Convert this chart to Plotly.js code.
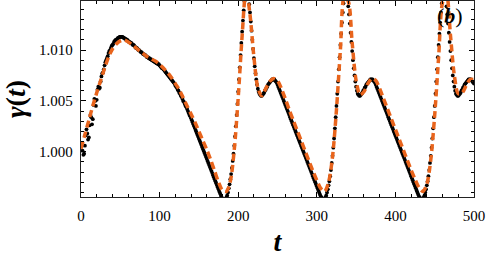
<!DOCTYPE html>
<html>
<head>
<meta charset="utf-8">
<script src="https://cdn.plot.ly/plotly-3.0.1.min.js"></script>
<style>html,body{margin:0;padding:0;background:#fff;}#chart{width:488px;height:262px;}</style>
</head>
<body>
<div id="chart"></div>
<script>
// black series: sampled every 1 time unit starting at t = 0
const blackStart = 0;
const blackStep = 1;
const blackGamma = [
1.0008,1.0006,1.0001,0.9997,0.9998,1.0006,1.0016,1.0022,1.0018,1.0012,
1.0014,1.0026,1.0036,1.0034,1.0027,1.0032,1.0046,1.0052,1.0050,1.0045,
1.0051,1.0061,1.0064,1.0062,1.0063,1.0069,1.0074,1.0077,1.0078,1.0081,
1.0085,1.0088,1.0090,1.0092,1.0094,1.0097,1.0099,1.0100,1.0102,1.0104,
1.0105,1.0106,1.0108,1.0109,1.0110,1.0110,1.0111,1.0112,1.0112,1.0113,
1.0113,1.0113,1.0113,1.0113,1.0112,1.0112,1.0111,1.0111,1.0110,1.0110,
1.0109,1.0108,1.0108,1.0107,1.0107,1.0106,1.0105,1.0105,1.0104,1.0103,
1.0102,1.0102,1.0101,1.0100,1.0100,1.0099,1.0098,1.0098,1.0097,1.0096,
1.0096,1.0095,1.0095,1.0094,1.0093,1.0093,1.0092,1.0092,1.0091,1.0091,
1.0090,1.0090,1.0089,1.0089,1.0088,1.0088,1.0087,1.0087,1.0086,1.0086,
1.0085,1.0084,1.0083,1.0082,1.0082,1.0081,1.0080,1.0079,1.0078,1.0077,
1.0076,1.0075,1.0074,1.0073,1.0072,1.0071,1.0070,1.0069,1.0068,1.0067,
1.0065,1.0064,1.0063,1.0061,1.0060,1.0058,1.0057,1.0055,1.0054,1.0052,
1.0050,1.0049,1.0047,1.0045,1.0044,1.0042,1.0040,1.0038,1.0036,1.0035,
1.0033,1.0031,1.0029,1.0027,1.0025,1.0023,1.0021,1.0019,1.0017,1.0015,
1.0013,1.0011,1.0009,1.0007,1.0005,1.0003,1.0001,0.9999,0.9997,0.9995,
0.9993,0.9991,0.9989,0.9987,0.9985,0.9983,0.9981,0.9979,0.9977,0.9975,
0.9973,0.9971,0.9969,0.9967,0.9965,0.9963,0.9961,0.9959,0.9957,0.9955,
0.9954,0.9953,0.9952,0.9952,0.9953,0.9955,0.9957,0.9960,0.9964,0.9968,
0.9973,0.9978,0.9984,0.9991,0.9998,1.0006,1.0015,1.0025,1.0036,1.0047,
1.0059,1.0071,1.0083,1.0095,1.0107,1.0118,1.0129,1.0139,1.0148,1.0155,
1.0159,1.0160,1.0157,1.0152,1.0145,1.0137,1.0128,1.0119,1.0110,1.0101,
1.0092,1.0084,1.0077,1.0071,1.0066,1.0062,1.0059,1.0057,1.0056,1.0055,
1.0055,1.0056,1.0057,1.0058,1.0060,1.0061,1.0063,1.0064,1.0066,1.0067,
1.0068,1.0069,1.0070,1.0071,1.0071,1.0071,1.0071,1.0070,1.0069,1.0068,
1.0066,1.0064,1.0062,1.0060,1.0058,1.0056,1.0054,1.0052,1.0050,1.0048,
1.0046,1.0044,1.0042,1.0040,1.0038,1.0036,1.0034,1.0032,1.0030,1.0028,
1.0026,1.0024,1.0022,1.0020,1.0018,1.0016,1.0014,1.0012,1.0010,1.0008,
1.0006,1.0004,1.0002,1.0000,0.9998,0.9996,0.9994,0.9992,0.9990,0.9988,
0.9986,0.9984,0.9982,0.9980,0.9978,0.9976,0.9974,0.9972,0.9970,0.9968,
0.9966,0.9964,0.9962,0.9960,0.9958,0.9956,0.9955,0.9954,0.9953,0.9953,
0.9954,0.9955,0.9957,0.9960,0.9963,0.9967,0.9971,0.9976,0.9982,0.9989,
0.9996,1.0004,1.0013,1.0023,1.0034,1.0045,1.0057,1.0069,1.0081,1.0093,
1.0105,1.0116,1.0127,1.0137,1.0146,1.0153,1.0157,1.0158,1.0155,1.0150,
1.0143,1.0135,1.0126,1.0117,1.0108,1.0099,1.0090,1.0082,1.0075,1.0069,
1.0064,1.0060,1.0057,1.0056,1.0055,1.0055,1.0056,1.0057,1.0058,1.0060,
1.0061,1.0063,1.0064,1.0066,1.0067,1.0068,1.0069,1.0070,1.0071,1.0071,
1.0071,1.0071,1.0070,1.0069,1.0068,1.0066,1.0064,1.0062,1.0060,1.0058,
1.0056,1.0054,1.0052,1.0050,1.0048,1.0046,1.0044,1.0042,1.0040,1.0038,
1.0036,1.0034,1.0032,1.0030,1.0028,1.0026,1.0024,1.0022,1.0020,1.0018,
1.0016,1.0014,1.0012,1.0010,1.0008,1.0006,1.0004,1.0002,1.0000,0.9998,
0.9996,0.9994,0.9992,0.9990,0.9988,0.9986,0.9984,0.9982,0.9980,0.9978,
0.9976,0.9974,0.9972,0.9970,0.9968,0.9966,0.9964,0.9962,0.9960,0.9958,
0.9956,0.9955,0.9954,0.9953,0.9953,0.9954,0.9955,0.9957,0.9960,0.9963,
0.9967,0.9971,0.9976,0.9982,0.9989,0.9996,1.0004,1.0013,1.0023,1.0034,
1.0045,1.0057,1.0069,1.0081,1.0093,1.0105,1.0116,1.0127,1.0137,1.0146,
1.0153,1.0157,1.0158,1.0155,1.0150,1.0143,1.0135,1.0126,1.0117,1.0108,
1.0099,1.0090,1.0082,1.0075,1.0069,1.0064,1.0060,1.0057,1.0056,1.0055,
1.0055,1.0056,1.0057,1.0058,1.0060,1.0061,1.0063,1.0064,1.0066,1.0067,
1.0068,1.0069,1.0070,1.0071,1.0071,1.0071,1.0071,1.0070,1.0069,1.0068,
1.0067
];
const blackT = blackGamma.map((_, i) => blackStart + i * blackStep);

// orange dashed series
const orangeT = [0,5,10,15,20,25,30,35,40,45,50,55,60,65,70,75,80,85,90,95,
100,105,110,115,120,125,130,135,140,145,150,155,160,165,170,175,180,185,190,195,
200,205,210,215,220,225,230,235,240,245,250,255,260,265,270,275,280,285,290,295,
300,305,310,315,320,325,330,335,340,345,350,355,360,365,370,375,380,385,390,395,
400,405,410,415,420,425,430,435,440,445,450,455,460,465,470,475,480,485,490,495,500];
const orangeGamma = [
1.0003,1.0017,1.0031,1.0045,1.0058,1.0070,1.0082,1.0093,1.0101,1.0106,
1.0109,1.0110,1.0108,1.0105,1.0102,1.0099,1.0096,1.0093,1.0091,1.0089,
1.0086,1.0082,1.0078,1.0073,1.0067,1.0061,1.0053,1.0045,1.0037,1.0029,
1.0020,1.0011,1.0002,0.9992,0.9981,0.9970,0.9962,0.9961,0.9971,1.0002,
1.0053,1.0114,1.0160,1.0135,1.0093,1.0063,1.0055,1.0062,1.0069,1.0072,
1.0070,1.0062,1.0052,1.0041,1.0031,1.0021,1.0011,1.0001,0.9991,0.9981,
0.9972,0.9964,0.9961,0.9970,0.9995,1.0041,1.0100,1.0152,1.0148,1.0107,
1.0070,1.0056,1.0059,1.0067,1.0072,1.0070,1.0062,1.0052,1.0042,1.0032,
1.0022,1.0012,1.0002,0.9992,0.9982,0.9973,0.9965,0.9961,0.9968,0.9992,
1.0036,1.0093,1.0147,1.0155,1.0115,1.0075,1.0057,1.0058,1.0065,1.0071,
1.0071
];

const xTickVals = [0,100,200,300,400,500];
const yTickVals = [1.000,1.005,1.010];
const yTickText = ['1.000','1.005','1.010'];

const serif = 'Liberation Serif, DejaVu Serif, serif';

const traces = [
  {x: blackT, y: blackGamma, mode: 'markers', marker: {color: '#000', size: 3.8}, hoverinfo: 'skip'},
  {x: orangeT, y: orangeGamma, mode: 'lines', line: {color: '#e8641c', width: 3.5, dash: '7px,4px', shape: 'spline', smoothing: 0.8}, hoverinfo: 'skip'}
];

const layout = {
  width: 488, height: 262,
  margin: {l: 81, r: 14, t: 1, b: 65},
  paper_bgcolor: '#fff', plot_bgcolor: '#fff',
  showlegend: false,
  font: {family: serif, color: '#000', size: 15},
  xaxis: {
    range: [0, 500], tickvals: xTickVals, ticktext: xTickVals.map(String),
    ticks: 'inside', ticklen: 5, tickwidth: 1, tickcolor: '#000',
    showline: true, linecolor: '#222', linewidth: 1.2, mirror: 'allticks',
    showgrid: false, zeroline: false, ticklabelstandoff: 5,
    minor: {dtick: 20, tick0: 0, ticks: 'inside', ticklen: 3, tickcolor: '#000', showgrid: false},
    tickfont: {family: serif, size: 15},
    title: {text: '<b><i>t</i></b>', font: {family: serif, size: 28}, standoff: 8}
  },
  yaxis: {
    range: [0.99555, 1.01482], tickvals: yTickVals, ticktext: yTickText,
    ticks: 'inside', ticklen: 5, tickwidth: 1, tickcolor: '#000',
    showline: true, linecolor: '#222', linewidth: 1.2, mirror: 'allticks',
    showgrid: false, zeroline: false, ticklabelstandoff: 4,
    minor: {dtick: 0.001, tick0: 1.0, ticks: 'inside', ticklen: 3, tickcolor: '#000', showgrid: false},
    tickfont: {family: serif, size: 15},
    title: {text: '<b><i>γ</i>(<i>t</i>)</b>', font: {family: serif, size: 28}, standoff: 8}
  },
  annotations: [{
    xref: 'paper', yref: 'paper', x: 0.94, y: 1.0, xanchor: 'center', yanchor: 'top',
    text: '(<b><i>b</i></b>)', showarrow: false, font: {family: serif, size: 22, color: '#000'}
  }]
};

Plotly.newPlot('chart', traces, layout, {staticPlot: true, displayModeBar: false});
</script>
</body>
</html>
